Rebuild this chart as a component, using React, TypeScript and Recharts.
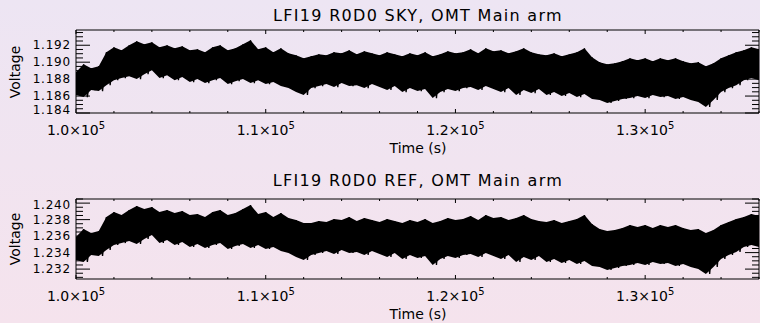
import { Area, ComposedChart, Line, ReferenceArea, XAxis, YAxis } from "recharts";

// time bins (s): one envelope value every 400 s
const T0 = 100000;
const STEP = 400;
const T_END = 136000;

// SKY channel envelope (V)
const skyHigh = [
  1.18882, 1.18976, 1.18929, 1.18953, 1.19118, 1.19176, 1.19141, 1.192, 1.19247, 1.19212,
  1.19235, 1.19176, 1.192, 1.19165, 1.19188, 1.19141, 1.19153, 1.19118, 1.19176, 1.192,
  1.19141, 1.19165, 1.19212, 1.19259, 1.19153, 1.19176, 1.19118, 1.19165, 1.19106, 1.19082,
  1.19047, 1.19071, 1.19094, 1.19082, 1.19118, 1.19106, 1.19141, 1.19094, 1.19129, 1.19106,
  1.19082, 1.19118, 1.19094, 1.19071, 1.19106, 1.19082, 1.19118, 1.19071, 1.19094, 1.19129,
  1.19106, 1.19118, 1.19153, 1.19106, 1.19165, 1.19129, 1.19141, 1.19106, 1.19129, 1.19165,
  1.19118, 1.19094, 1.19082, 1.19106, 1.19071, 1.19094, 1.19118, 1.19165, 1.19059, 1.19,
  1.18976, 1.18988, 1.19012, 1.19047, 1.19024, 1.19047, 1.19012, 1.19047, 1.19024, 1.19047,
  1.19012, 1.18988, 1.19, 1.18953, 1.18988, 1.19047, 1.19082, 1.19118, 1.19141, 1.19176,
  1.19153,
];
const skyLow = [
  1.18612, 1.18588, 1.18671, 1.18659, 1.18729, 1.18788, 1.18812, 1.18835, 1.188, 1.18859,
  1.18906, 1.18812, 1.18847, 1.18788, 1.18824, 1.18765, 1.188, 1.18753, 1.18788, 1.18812,
  1.18741, 1.18776, 1.188, 1.18753, 1.18788, 1.18741, 1.18765, 1.18718, 1.18694, 1.18647,
  1.18612, 1.18694, 1.18718, 1.18741, 1.18706, 1.18753, 1.18718, 1.18729, 1.18694, 1.18741,
  1.18706, 1.18671, 1.18718, 1.18647, 1.18694, 1.18659, 1.18682, 1.18576, 1.18647, 1.18682,
  1.18659, 1.18694, 1.18706, 1.18671, 1.18718, 1.18682, 1.18647, 1.18694, 1.18612, 1.18671,
  1.18635, 1.18682, 1.18612, 1.18647, 1.186, 1.18635, 1.18588, 1.18624, 1.18565, 1.18553,
  1.18518, 1.18541, 1.18565, 1.18576, 1.186, 1.18576, 1.18612, 1.18588, 1.186, 1.18565,
  1.18588, 1.18553, 1.18529, 1.18471, 1.18553, 1.18647, 1.18694, 1.18729, 1.18788, 1.18812,
  1.18788,
];

// REF channel envelope (V)
const refHigh = [
  1.23589, 1.23686, 1.23638, 1.23662, 1.23832, 1.23892, 1.23856, 1.23916, 1.23965, 1.23929,
  1.23953, 1.23892, 1.23916, 1.2388, 1.23904, 1.23856, 1.23868, 1.23832, 1.23892, 1.23916,
  1.23856, 1.2388, 1.23929, 1.23977, 1.23868, 1.23892, 1.23832, 1.2388, 1.23819, 1.23795,
  1.23759, 1.23759, 1.23783, 1.23771, 1.23807, 1.23795, 1.23832, 1.23783, 1.23819, 1.23795,
  1.23771, 1.23807, 1.23783, 1.23759, 1.23795, 1.23771, 1.23807, 1.23759, 1.23783, 1.23819,
  1.23795, 1.23807, 1.23844, 1.23795, 1.23856, 1.23819, 1.23832, 1.23795, 1.23819, 1.23856,
  1.23807, 1.23783, 1.23771, 1.23795, 1.23759, 1.23783, 1.23807, 1.23856, 1.23747, 1.23686,
  1.23662, 1.23674, 1.23698, 1.23735, 1.2371, 1.23735, 1.23698, 1.23735, 1.2371, 1.23735,
  1.23698, 1.23674, 1.23686, 1.23638, 1.23674, 1.23735, 1.23771, 1.23807, 1.23832, 1.23868,
  1.23844,
];
const refLow = [
  1.2331, 1.23286, 1.23371, 1.23359, 1.23432, 1.23492, 1.23516, 1.23541, 1.23504, 1.23565,
  1.23613, 1.23516, 1.23553, 1.23492, 1.23528, 1.23468, 1.23504, 1.23456, 1.23492, 1.23516,
  1.23444, 1.2348, 1.23504, 1.23456, 1.23492, 1.23444, 1.23468, 1.23419, 1.23395, 1.23347,
  1.2331, 1.23371, 1.23395, 1.23419, 1.23383, 1.23432, 1.23395, 1.23407, 1.23371, 1.23419,
  1.23383, 1.23347, 1.23395, 1.23322, 1.23371, 1.23335, 1.23359, 1.2325, 1.23322, 1.23359,
  1.23335, 1.23371, 1.23383, 1.23347, 1.23395, 1.23359, 1.23322, 1.23371, 1.23286, 1.23347,
  1.2331, 1.23359, 1.23286, 1.23322, 1.23274, 1.2331, 1.23262, 1.23298, 1.23238, 1.23225,
  1.23189, 1.23213, 1.23238, 1.2325, 1.23274, 1.2325, 1.23286, 1.23262, 1.23274, 1.23238,
  1.23262, 1.23225, 1.23201, 1.23141, 1.23225, 1.23322, 1.23371, 1.23407, 1.23468, 1.23492,
  1.23468,
];

const timeTicks = [
  100000, 102000, 104000, 106000, 108000, 110000, 112000, 114000, 116000, 118000,
  120000, 122000, 124000, 126000, 128000, 130000, 132000, 134000, 136000,
];
const skyTicks = [
  1.184, 1.1845, 1.185, 1.1855, 1.186, 1.1865, 1.187, 1.1875, 1.188, 1.1885,
  1.189, 1.1895, 1.19, 1.1905, 1.191, 1.1915, 1.192, 1.1925, 1.193, 1.1935,
];
const refTicks = [
  1.231, 1.2315, 1.232, 1.2325, 1.233, 1.2335, 1.234, 1.2345, 1.235, 1.2355,
  1.236, 1.2365, 1.237, 1.2375, 1.238, 1.2385, 1.239, 1.2395, 1.24, 1.2405,
];
const skyDomain = [1.184, 1.1938];
const refDomain = [1.2308, 1.2405];

const FONT = "'DejaVu Sans', sans-serif";

function buildRows(high: number[], low: number[]) {
  const rows: any[] = [];
  high.forEach((h, i) => {
    const t = T0 + i * STEP;
    rows.push({ t, band: [low[i], h], trace: h });
    if (i < high.length - 1) rows.push({ t: t + STEP / 2, trace: low[i] });
  });
  return rows;
}

const isMultiple = (v: number, step: number) =>
  Math.abs(v / step - Math.round(v / step)) < 1e-6;

type Box = { left: number; right: number; top: number; bottom: number };

function YTick(props: any) {
  const { y, payload, box } = props;
  const v = payload.value as number;
  const major = isMultiple(v, 0.002);
  const len = major ? 14 : 7;
  // keep end labels inside the frame, like the original plot does
  const ly = Math.min(Math.max(y, box.top + 6), box.bottom - 3);
  return (
    <g>
      <line x1={box.left} x2={box.left + len} y1={y} y2={y} stroke="#000" />
      <line x1={box.right} x2={box.right - len} y1={y} y2={y} stroke="#000" />
      {major && (
        <text
          x={box.left - 5}
          y={ly}
          textAnchor="end"
          dominantBaseline="central"
          fontFamily={FONT}
          fontSize={12}
          letterSpacing={0.8}
          fill="#000"
        >
          {v.toFixed(3)}
        </text>
      )}
    </g>
  );
}

function XTick(props: any) {
  const { x, payload, box } = props;
  const v = payload.value as number;
  const major = isMultiple(v, 10000);
  const len = major ? 4 : 2;
  return (
    <g>
      <line x1={x} x2={x} y1={box.bottom} y2={box.bottom - len} stroke="#000" />
      <line x1={x} x2={x} y1={box.top} y2={box.top + len} stroke="#000" />
      {major && (
        <text
          x={x}
          y={box.bottom + 22}
          textAnchor="middle"
          fontFamily={FONT}
          fontSize={14}
          fill="#000"
        >
          {(v / 100000).toFixed(1)}×10
          <tspan dy={-6} fontSize={10}>
            5
          </tspan>
        </text>
      )}
    </g>
  );
}

type PanelProps = {
  title: string;
  high: number[];
  low: number[];
  ticks: number[];
  domain: number[];
  top: number;
  height: number;
  plotTop: number;
  plotHeight: number;
  titleY: number;
};

function Panel({ title, high, low, ticks, domain, top, height, plotTop, plotHeight, titleY }: PanelProps) {
  const rows = buildRows(high, low);
  const box: Box = { left: 76, right: 759, top: plotTop, bottom: plotTop + plotHeight };
  const label: React.CSSProperties = {
    position: "absolute",
    fontFamily: FONT,
    fontSize: 14,
    color: "#000",
    whiteSpace: "nowrap",
    lineHeight: 1,
  };
  return (
    <div style={{ position: "absolute", left: 0, top, width: 760, height }}>
      <div
        style={{
          ...label,
          fontSize: 16,
          letterSpacing: 1.3,
          left: 418,
          top: titleY,
          transform: "translate(-50%, -50%)",
        }}
      >
        {title}
      </div>
      <div
        style={{
          ...label,
          left: 15,
          top: plotTop + plotHeight / 2,
          transform: "translate(-50%, -50%) rotate(-90deg)",
        }}
      >
        Voltage
      </div>
      <div
        style={{
          ...label,
          left: 418,
          top: box.bottom + 35,
          transform: "translate(-50%, -50%)",
        }}
      >
        Time (s)
      </div>
      <ComposedChart
        width={760}
        height={height}
        data={rows}
        margin={{ top: plotTop, right: 1, left: 0, bottom: 0 }}
      >
        <XAxis
          dataKey="t"
          type="number"
          domain={[T0, T_END]}
          ticks={timeTicks}
          interval={0}
          allowDataOverflow
          axisLine={false}
          tickLine={false}
          height={height - plotTop - plotHeight}
          tick={(p: any) => <XTick {...p} box={box} />}
        />
        <YAxis
          type="number"
          domain={domain}
          ticks={ticks}
          interval={0}
          allowDataOverflow
          axisLine={false}
          tickLine={false}
          width={76}
          tick={(p: any) => <YTick {...p} box={box} />}
        />
        <Area
          dataKey="band"
          type="linear"
          stroke="none"
          fill="#000"
          fillOpacity={1}
          connectNulls
          dot={false}
          activeDot={false}
          isAnimationActive={false}
        />
        <Line
          dataKey="trace"
          type="linear"
          stroke="#000"
          strokeWidth={1.3}
          dot={false}
          activeDot={false}
          isAnimationActive={false}
        />
        <ReferenceArea
          x1={T0}
          x2={T_END}
          y1={domain[0]}
          y2={domain[1]}
          fill="none"
          stroke="#000"
          strokeWidth={1}
          ifOverflow="visible"
        />
      </ComposedChart>
    </div>
  );
}

export default function App() {
  return (
    <div
      style={{
        position: "fixed",
        left: 0,
        top: 0,
        width: 760,
        height: 323,
        overflow: "hidden",
        background: "linear-gradient(180deg, #ede5f3 0%, #f5e3ed 100%)",
      }}
    >
      <Panel
        title="LFI19 R0D0 SKY, OMT Main arm"
        high={skyHigh}
        low={skyLow}
        ticks={skyTicks}
        domain={skyDomain}
        top={0}
        height={161}
        plotTop={30}
        plotHeight={83}
        titleY={16}
      />
      <Panel
        title="LFI19 R0D0 REF, OMT Main arm"
        high={refHigh}
        low={refLow}
        ticks={refTicks}
        domain={refDomain}
        top={169}
        height={154}
        plotTop={30}
        plotHeight={80}
        titleY={12}
      />
    </div>
  );
}
